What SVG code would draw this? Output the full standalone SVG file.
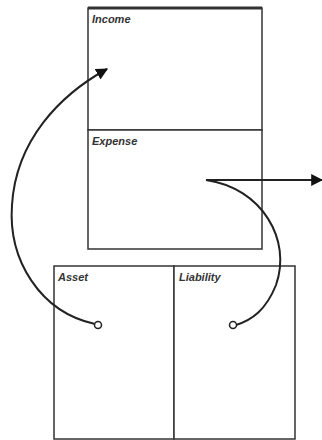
<svg xmlns="http://www.w3.org/2000/svg" width="322" height="440" viewBox="0 0 322 440">
<defs>
<style>
.box{fill:#fff;stroke:#333;stroke-width:1.5}
.lbl{font-family:"Liberation Sans",Arial,sans-serif;font-size:11px;font-weight:bold;font-style:italic;fill:#333}
.conn{fill:none;stroke:#222;stroke-width:2}
.dot{fill:#fff;stroke:#222;stroke-width:1.5}
</style>
<marker id="ah" viewBox="0 0 10 10" refX="9" refY="5" markerWidth="6" markerHeight="6" orient="auto" markerUnits="strokeWidth">
<path d="M0,0 L10,5 L0,10 z" fill="#111"/>
</marker>
</defs>
<rect width="322" height="440" fill="#fff"/>
<g id="income">
<rect class="box" x="88" y="8" width="174" height="122"/>
<line x1="88" y1="8" x2="262" y2="8" stroke="#333" stroke-width="3"/>
<text class="lbl" x="92" y="23">Income</text>
</g>
<g id="expense">
<rect class="box" x="88" y="130" width="174" height="119"/>
<text class="lbl" x="92" y="145">Expense</text>
</g>
<g id="asset">
<rect class="box" x="54" y="266" width="120" height="173"/>
<text class="lbl" x="58" y="281">Asset</text>
</g>
<g id="liability">
<rect class="box" x="174" y="266" width="121" height="173"/>
<text class="lbl" x="179" y="281">Liability</text>
</g>
<g id="connectors">
<path class="conn" d="M95,324 C40,312 8,260 12,205 C16,140 60,95 107,69" marker-end="url(#ah)"/>
<path class="conn" d="M206,180 L322,180" marker-end="url(#ah)"/>
<path class="conn" d="M206,180 C262,188 292,240 276,285 C266,310 252,320 236,325"/>
<circle class="dot" cx="98" cy="325" r="3.5"/>
<circle class="dot" cx="233" cy="325" r="3.5"/>
</g>
</svg>
